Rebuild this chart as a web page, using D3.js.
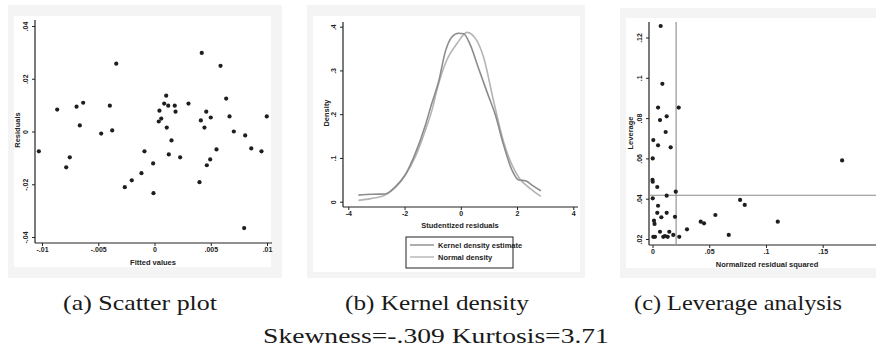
<!DOCTYPE html>
<html>
<head>
<meta charset="utf-8">
<script src="https://cdn.jsdelivr.net/npm/d3@7"></script>
<style>
  body { margin: 0; background: #fff; }
  svg { display: block; }
  .tick text { font-family: "Liberation Sans Narrow", "Arial Narrow", "Liberation Sans", sans-serif; font-weight: bold; font-size: 7px; fill: #222; }
  .ttl { font-family: "Liberation Sans Narrow", "Arial Narrow", "Liberation Sans", sans-serif; font-weight: bold; font-size: 7.5px; fill: #222; }
  .cap { font-family: "Liberation Serif", "Times New Roman", serif; font-size: 21px; fill: #1a1a1a; }
</style>
</head>
<body>
<svg id="chart" width="876" height="353"></svg>
<script>
// (a) fitted values vs residuals
var fitted = [-0.01028, -0.00865, -0.00785, -0.00753, -0.00693, -0.00664, -0.00634, -0.00474, -0.00397, -0.00376,
  -0.0034, -0.00264, -0.00202, -0.00116, -0.00089, -0.00012, -0.00009, 0.00038, 0.00044, 0.0006,
  0.00086, 0.00104, 0.00109, 0.00122, 0.00127, 0.00151, 0.0018, 0.00187, 0.00228, 0.00302,
  0.004, 0.00412, 0.0042, 0.00444, 0.0046, 0.00465, 0.00495, 0.005, 0.00551, 0.00587,
  0.00637, 0.00667, 0.00705, 0.00797, 0.00806, 0.0086, 0.00951, 0.00998]
var residuals = [-0.0075, 0.0083, -0.0136, -0.0098, 0.0094, 0.0023, 0.0109, -0.0008, 0.0098, 0.0004,
  0.0257, -0.0211, -0.0185, -0.0158, -0.0075, -0.0121, -0.0234, 0.0038, 0.0079, 0.0049,
  0.0106, 0.0136, 0.0015, 0.0098, -0.0087, -0.0034, 0.0098, 0.0075, -0.0098, 0.0106,
  -0.0192, 0.0042, 0.0298, 0.0015, 0.0075, -0.0128, -0.0106, 0.0053, -0.0068, 0.0249,
  0.0125, 0.0057, 0, -0.0366, -0.0015, -0.0064, -0.0075, 0.0057]
var aXTicks = [-0.01, -0.005, 0, 0.005, 0.01]
var aXLabels = ["-.01", "-.005", "0", ".005", ".01"]
var aYTicks = [-0.04, -0.02, 0, 0.02, 0.04]
var aYLabels = ["-.04", "-.02", "0", ".02", ".04"]

// (b) kernel density vs normal density of studentized residuals
var kernelX = [-3.64, -3.16, -2.69, -2.33, -1.98, -1.62, -1.26, -1.03, -0.79, -0.55, -0.31, -0.08, 0.1, 0.34, 0.63, 0.93, 1.23, 1.52, 1.82, 2.06, 2.3, 2.53, 2.85]
var kernelY = [0.015, 0.017, 0.0176, 0.034, 0.061, 0.11, 0.175, 0.225, 0.274, 0.343, 0.377, 0.385, 0.384, 0.358, 0.305, 0.251, 0.198, 0.13, 0.072, 0.0496, 0.048, 0.038, 0.025]
var normalX = [-3.64, -3.2, -2.7, -2.33, -2.0, -1.6, -1.25, -1.0, -0.85, -0.49, -0.13, 0.22, 0.57, 0.81, 1.16, 1.52, 1.82, 2.1, 2.47, 2.85]
var normalY = [0.003, 0.007, 0.015, 0.032, 0.058, 0.105, 0.165, 0.215, 0.255, 0.325, 0.362, 0.387, 0.368, 0.33, 0.232, 0.137, 0.084, 0.052, 0.03, 0.012]
var bXTicks = [-4, -2, 0, 2, 4]
var bXLabels = ["-4", "-2", "0", "2", "4"]
var bYTicks = [0, 0.1, 0.2, 0.3, 0.4]
var bYLabels = ["0", ".1", ".2", ".3", ".4"]
var legendLabels = ["Kernel density estimate", "Normal density"]

// (c) leverage vs normalized residual squared
var nrs = [0.0072, 0.0087, 0.0231, 0.0049, 0.0066, 0.0125, 0.0116, 0.0007, 0.0049, 0.016,
  0.0002, 0, 0.0002, 0.0042, 0.0125, 0.0205, 0.0002, 0.0049, 0.0772, 0.0813,
  0.0042, 0.0125, 0.0078, 0.0013, 0.0198, 0.0554, 0.0425, 0.0454, 0.1104, 0.0304,
  0.0066, 0.0148, 0.0672, 0.0007, 0.0022, 0.0095, 0.011, 0.0134, 0.0183, 0.0236,
  0.1671, 0.0018]
var leverage = [0.1257, 0.097, 0.0852, 0.0852, 0.079, 0.0809, 0.0731, 0.0691, 0.0665, 0.0655,
  0.06, 0.0494, 0.0484, 0.0458, 0.0415, 0.0435, 0.0402, 0.0365, 0.0394, 0.0369,
  0.033, 0.033, 0.0308, 0.0291, 0.031, 0.0319, 0.0286, 0.0278, 0.0286, 0.0248,
  0.0236, 0.0236, 0.022, 0.0211, 0.0211, 0.0211, 0.0215, 0.0211, 0.022, 0.0211,
  0.059, 0.0275]
var levRefX = 0.0208
var levRefY = 0.0417
var cXTicks = [0, 0.05, 0.1, 0.15]
var cXLabels = ["0", ".05", ".1", ".15"]
var cYTicks = [0.02, 0.04, 0.06, 0.08, 0.1, 0.12]
var cYLabels = [".02", ".04", ".06", ".08", ".1", ".12"]

var captions = ["(a)  Scatter plot", "(b)  Kernel density", "(c)  Leverage analysis"]
var footnote = "Skewness=-.309 Kurtosis=3.71"

var svg = d3.select("#chart")

// stata style frame + axes for one panel
function panel(p) {
  var g = svg.append("g")
  g.append("rect").attr("x", p.outer[0]).attr("y", p.outer[1])
    .attr("width", p.outer[2] - p.outer[0]).attr("height", p.outer[3] - p.outer[1])
    .attr("fill", "#f4f4f4")
  g.append("rect").attr("x", p.inner[0]).attr("y", p.inner[1])
    .attr("width", p.inner[2] - p.inner[0]).attr("height", p.inner[3] - p.inner[1])
    .attr("fill", "#fff")

  var xAxis = d3.axisBottom(p.x).tickValues(p.xTicks).tickSize(3).tickSizeOuter(0)
    .tickFormat((d, i) => p.xLabels[i])
  var gx = g.append("g").attr("transform", "translate(0," + p.axisY + ")").call(xAxis)
  gx.select(".domain").remove()
  gx.selectAll(".tick line").attr("stroke", "#222")
  gx.selectAll(".tick text").attr("dy", "0.4em")

  var yAxis = d3.axisLeft(p.y).tickValues(p.yTicks).tickSize(3).tickSizeOuter(0)
    .tickFormat((d, i) => p.yLabels[i])
  var gy = g.append("g").attr("transform", "translate(" + p.axisX + ",0)").call(yAxis)
  gy.select(".domain").remove()
  gy.selectAll(".tick line").attr("stroke", "#222")
  gy.selectAll(".tick text")
    .attr("x", 0).attr("dy", 0)
    .attr("text-anchor", "middle")
    .attr("transform", "translate(-7,0) rotate(-90)")

  g.append("line").attr("x1", p.axisX).attr("x2", p.axisX)
    .attr("y1", p.yTop).attr("y2", p.axisY).attr("stroke", "#222").attr("stroke-width", 1.2)
  g.append("line").attr("x1", p.axisX).attr("x2", p.xRight)
    .attr("y1", p.axisY).attr("y2", p.axisY).attr("stroke", "#222").attr("stroke-width", 1.2)

  g.append("text").attr("class", "ttl").attr("text-anchor", "middle")
    .attr("x", p.xTitlePos[0]).attr("y", p.xTitlePos[1]).text(p.xTitle)
  g.append("text").attr("class", "ttl").attr("text-anchor", "middle")
    .attr("transform", "translate(" + p.yTitlePos[0] + "," + p.yTitlePos[1] + ") rotate(-90)")
    .text(p.yTitle)
  return g
}

// ---- (a)
var xA = d3.scaleLinear().domain([-0.01, 0.01]).range([42, 267])
var yA = d3.scaleLinear().domain([-0.04, 0.04]).range([237, 26])
var gA = panel({
  outer: [8, 5, 282, 278], inner: [14, 16, 271, 267],
  x: xA, y: yA, xTicks: aXTicks, xLabels: aXLabels, yTicks: aYTicks, yLabels: aYLabels,
  axisX: 35, axisY: 243, yTop: 20, xRight: 272,
  xTitle: "Fitted values", xTitlePos: [153, 265],
  yTitle: "Residuals", yTitlePos: [20, 130]
})
gA.append("g").selectAll("circle")
  .data(fitted)
  .enter()
  .append("circle")
  .attr("cx", d => xA(d))
  .attr("cy", (d, i) => yA(residuals[i]))
  .attr("r", 2.1)
  .attr("fill", "#1e1e1e")

// ---- (b)
var xB = d3.scaleLinear().domain([-4, 4]).range([348.3, 573.3])
var yB = d3.scaleLinear().domain([0, 0.4]).range([201.7, 26.7])
var gB = panel({
  outer: [307, 5, 585, 278], inner: [313, 16, 580, 272],
  x: xB, y: yB, xTicks: bXTicks, xLabels: bXLabels, yTicks: bYTicks, yLabels: bYLabels,
  axisX: 343, axisY: 207, yTop: 22, xRight: 578,
  xTitle: "Studentized residuals", xTitlePos: [460, 228],
  yTitle: "Density", yTitlePos: [329, 113]
})
var lineGen = d3.line().x(d => xB(d[0])).y(d => yB(d[1])).curve(d3.curveMonotoneX)
var kernelPts = kernelX.map((x, i) => [x, kernelY[i]])
var normalPts = normalX.map((x, i) => [x, normalY[i]])
gB.append("path").attr("d", lineGen(normalPts))
  .attr("fill", "none").attr("stroke", "#b4b4b4").attr("stroke-width", 1.6)
gB.append("path").attr("d", lineGen(kernelPts))
  .attr("fill", "none").attr("stroke", "#8c8c8c").attr("stroke-width", 1.6)

var leg = gB.append("g")
leg.append("rect").attr("x", 406).attr("y", 237).attr("width", 107).attr("height", 31)
  .attr("fill", "#fff").attr("stroke", "#222").attr("stroke-width", 1)
var legColors = ["#8c8c8c", "#b4b4b4"]
legendLabels.forEach(function(lab, i) {
  var ly = 245 + i * 12
  leg.append("line").attr("x1", 410).attr("x2", 434).attr("y1", ly).attr("y2", ly)
    .attr("stroke", legColors[i]).attr("stroke-width", 1.4)
  leg.append("text").attr("class", "ttl").attr("x", 438).attr("y", ly + 2.5).text(lab)
})

// ---- (c)
var xC = d3.scaleLinear().domain([0, 0.15]).range([652.5, 822.7])
var yC = d3.scaleLinear().domain([0.02, 0.12]).range([239, 37.5])
var gC = panel({
  outer: [620, 8, 876, 278], inner: [626, 18, 876, 268],
  x: xC, y: yC, xTicks: cXTicks, xLabels: cXLabels, yTicks: cYTicks, yLabels: cYLabels,
  axisX: 649, axisY: 245, yTop: 22, xRight: 876,
  xTitle: "Normalized residual squared", xTitlePos: [767, 267],
  yTitle: "Leverage", yTitlePos: [633, 133]
})
gC.append("line").attr("x1", xC(levRefX)).attr("x2", xC(levRefX)).attr("y1", 22).attr("y2", 245)
  .attr("stroke", "#8a8a8a").attr("stroke-width", 1.1)
gC.append("line").attr("x1", 649).attr("x2", 876).attr("y1", yC(levRefY)).attr("y2", yC(levRefY))
  .attr("stroke", "#8a8a8a").attr("stroke-width", 1.1)
gC.append("g").selectAll("circle")
  .data(nrs)
  .enter()
  .append("circle")
  .attr("cx", d => xC(d))
  .attr("cy", (d, i) => yC(leverage[i]))
  .attr("r", 2.1)
  .attr("fill", "#1e1e1e")

// captions: the original serif is wider than Times, so scale each one horizontally
function wideText(str, cx, y, w) {
  var t = svg.append("text").attr("class", "cap").attr("text-anchor", "middle")
    .attr("x", 0).attr("y", 0).text(str)
  var k = w / t.node().getComputedTextLength()
  t.attr("transform", "translate(" + cx + "," + y + ") scale(" + k + ",1)")
}
var capX = [140, 437, 738]
var capW = [154, 184, 208]
captions.forEach(function(c, i) { wideText(c, capX[i], 310, capW[i]) })
wideText(footnote, 436, 343, 346)
</script>
</body>
</html>
